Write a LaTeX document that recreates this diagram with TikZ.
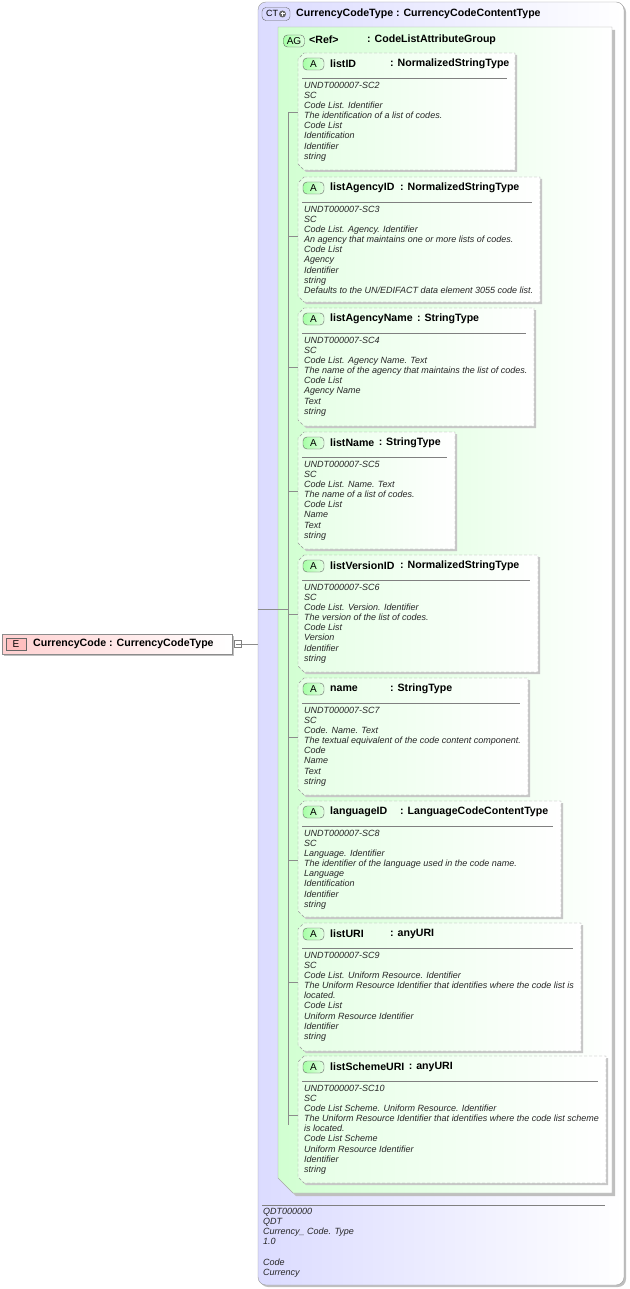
\documentclass[tikz,border=0pt]{standalone}
\usepackage{fontspec}
\setmainfont{Liberation Sans}
\usetikzlibrary{calc}
\begin{document}
\begin{tikzpicture}[x=1pt,y=-1pt,
  hdr/.style={font=\fontsize{10.6}{12}\selectfont\bfseries,anchor=west,inner sep=0pt},
  doc/.style={font=\fontsize{9}{10.1}\selectfont\itshape,anchor=north west,inner sep=0pt,align=left,text=black!85},
  badgeA/.style={draw=black!60,rounded corners=4pt,left color=green!35!white,right color=green!12!white,minimum width=21pt,minimum height=12pt,inner sep=0pt,font=\fontsize{10}{10}\selectfont},
  tree/.style={draw=black!45,line width=0.5pt}]
\useasboundingbox (0,0) rectangle (629,1289);
% CT box
\fill[black!25,rounded corners=8pt] (260,4) rectangle (626,1287);
\shade[left color=blue!14!white,right color=white,rounded corners=8pt,draw=black!40] (258,2) rectangle (624,1285);
\node[draw=black!60,rounded corners=4pt,fill=blue!15!white,minimum width=28pt,minimum height=13pt,inner sep=0pt,font=\fontsize{9}{10}\selectfont] (ctb) at (276,14) {CT\kern1pt\tikz[x=1pt,y=1pt,baseline=-1pt]{\fill[black!60] (0,2) circle (3.5);\draw[white,line width=1pt] (-2,2)--(2,2) (0,0)--(0,4);}};
\node[hdr] (ctt) at (296,14) {CurrencyCodeType : CurrencyCodeContentType};
% AG box
\fill[black!25] (281,30) -- (615,30) -- (615,1196) -- (296,1196) -- (281,1181) -- cycle;
\shade[left color=green!18!white,right color=white,draw=black!35] (278,27) -- (612,27) -- (612,1193) -- (293,1193) -- (278,1178) -- cycle;
\node[badgeA,minimum width=21pt] (agb) at (294,41) {AG};
\node[hdr] (agr) at (309,40) {<Ref>};
\node[hdr] (agt) at (367,40) {: CodeListAttributeGroup};
% tree lines
\coordinate (t0) at (258,609);
\coordinate (t1) at (288,609);
\coordinate (tt) at (288,112);
\coordinate (tb) at (288,1125);
\draw[tree] (t0) -- (t1);
\draw[tree] (tt) -- (tb);
\newcommand\attrbox[8]{%
  \fill[black!22] (306,#1+2) -- (#3+2,#1+2) -- (#3+2,#2+2) -- (306,#2+2) -- (300,#2-4) -- (300,#1+8) -- cycle;
  \shade[left color=green!10!white,right color=white] (304,#1) -- (#3,#1) -- (#3,#2) -- (304,#2) -- (298,#2-6) -- (298,#1+6) -- cycle;
  \draw[black!40,dashed,dash pattern=on 3pt off 2pt] (304,#1) -- (#3,#1) -- (#3,#2) -- (304,#2) -- (298,#2-6) -- (298,#1+6) -- cycle;
  \node[badgeA] (#8b) at (313.5,#1+11) {A};
  \node[hdr] (#8n) at (330,#1+11) {#4};
  \path let \p1=(#8n.east) in node[hdr] (#8t) at ({max(#5,\x1+4)},#1+11) {: #6};
  \draw[black!50] (302,#1+25) -- (#3-8,#1+25);
  \node[doc] (#8d) at (304,#1+29) {#7};
  \coordinate (#8c) at (288,#1+59);
  \coordinate (#8e) at (298,#1+59);
  \draw[tree] (#8c) -- (#8e);
}
\attrbox{53}{170}{515}{listID}{390}{NormalizedStringType}{UNDT000007-SC2\\SC\\Code List. Identifier\\The identification of a list of codes.\\Code List\\Identification\\Identifier\\string}{a1}
\attrbox{177}{302}{540}{listAgencyID}{400}{NormalizedStringType}{UNDT000007-SC3\\SC\\Code List. Agency. Identifier\\An agency that maintains one or more lists of codes.\\Code List\\Agency\\Identifier\\string\\Defaults to the UN/EDIFACT data element 3055 code list.}{a2}
\attrbox{308}{426}{534}{listAgencyName}{400}{StringType}{UNDT000007-SC4\\SC\\Code List. Agency Name. Text\\The name of the agency that maintains the list of codes.\\Code List\\Agency Name\\Text\\string}{a3}
\attrbox{432}{549}{455}{listName}{370}{StringType}{UNDT000007-SC5\\SC\\Code List. Name. Text\\The name of a list of codes.\\Code List\\Name\\Text\\string}{a4}
\attrbox{555}{672}{538}{listVersionID}{400}{NormalizedStringType}{UNDT000007-SC6\\SC\\Code List. Version. Identifier\\The version of the list of codes.\\Code List\\Version\\Identifier\\string}{a5}
\attrbox{678}{795}{528}{name}{390}{StringType}{UNDT000007-SC7\\SC\\Code. Name. Text\\The textual equivalent of the code content component.\\Code\\Name\\Text\\string}{a6}
\attrbox{801}{917}{561}{languageID}{400}{LanguageCodeContentType}{UNDT000007-SC8\\SC\\Language. Identifier\\The identifier of the language used in the code name.\\Language\\Identification\\Identifier\\string}{a7}
\attrbox{923}{1051}{581}{listURI}{390}{anyURI}{UNDT000007-SC9\\SC\\Code List. Uniform Resource. Identifier\\The Uniform Resource Identifier that identifies where the code list is\\located.\\Code List\\Uniform Resource Identifier\\Identifier\\string}{a8}
\attrbox{1056}{1183}{606}{listSchemeURI}{400}{anyURI}{UNDT000007-SC10\\SC\\Code List Scheme. Uniform Resource. Identifier\\The Uniform Resource Identifier that identifies where the code list scheme\\is located.\\Code List Scheme\\Uniform Resource Identifier\\Identifier\\string}{a9}
% footer
\draw[black!50] (262,1205) -- (605,1205);
\node[doc] (foot) at (263,1208) {QDT000000\\QDT\\Currency\_ Code. Type\\1.0\\[10.1pt]Code\\Currency};
% E node
\fill[black!25] (4,636) rectangle (234,656);
\shade[left color=red!18!white,right color=white,draw=black!45] (2,634) rectangle (232,654);
\node[draw=black!60,fill=red!25!white,minimum width=20pt,minimum height=12pt,inner sep=0pt,font=\fontsize{10}{10}\selectfont] (eb) at (16,644) {E};
\node[hdr] (et) at (33,644) {CurrencyCode : CurrencyCodeType};
\node[draw=black!50,fill=white,minimum size=7pt,inner sep=0pt] (sq) at (238,644) {};
\draw[black!50] (235.5,644) -- (240.5,644);
\coordinate (ctin) at (258,644);
\draw[tree] (sq.east) -- (ctin);
\end{tikzpicture}
\end{document}
